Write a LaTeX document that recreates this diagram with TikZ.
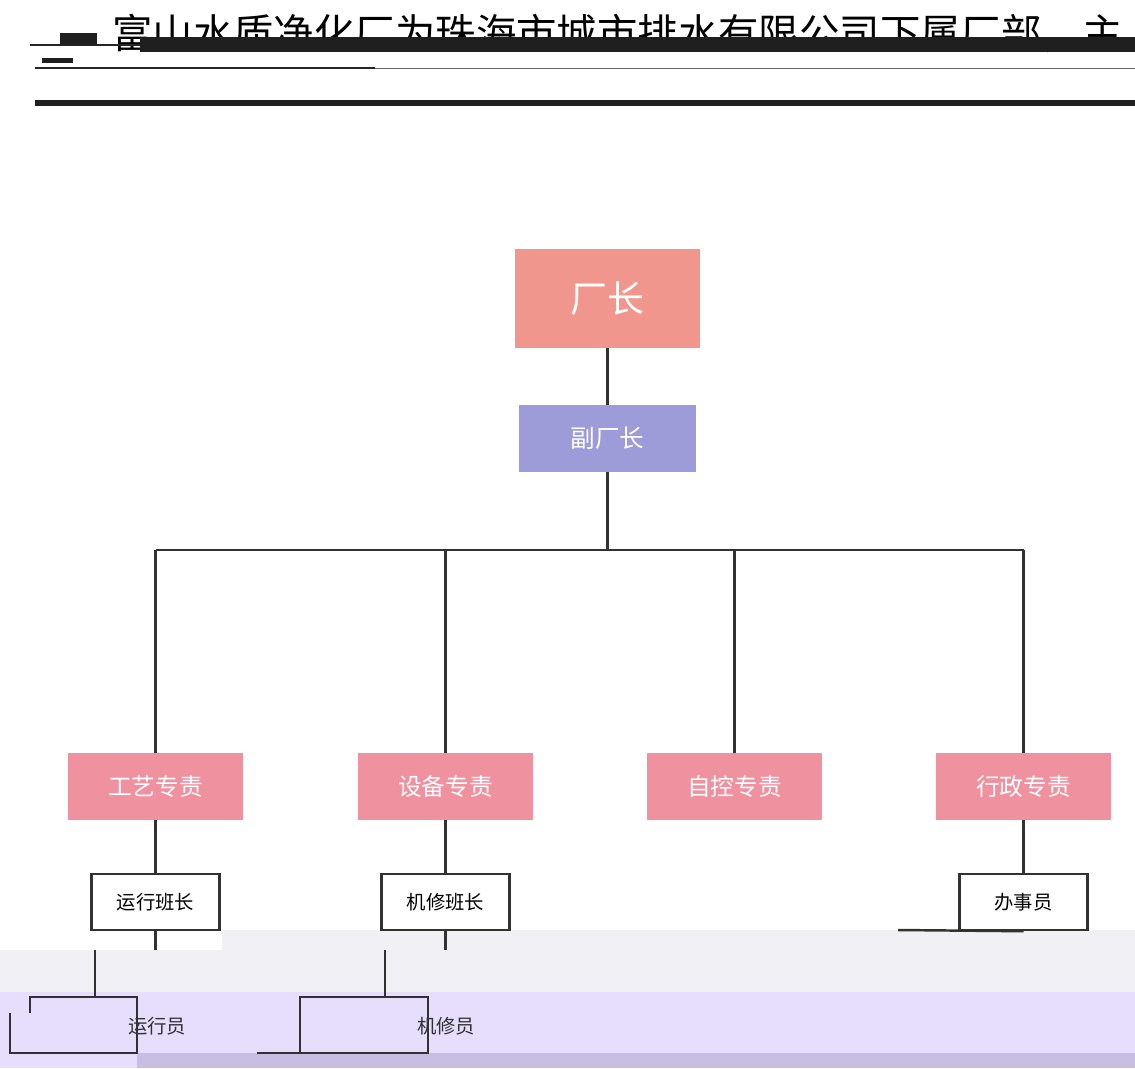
\documentclass[tikz,border=0pt]{standalone}
\usepackage{fontspec}
\newfontfamily\cjk{Noto Sans CJK SC}
\usetikzlibrary{positioning}

\definecolor{chiefred}{RGB}{240,150,140}
\definecolor{deputyblue}{RGB}{157,155,216}
\definecolor{dutypink}{RGB}{240,145,160}
\definecolor{linegray}{RGB}{50,50,50}
\definecolor{bandgray}{RGB}{240,240,245}
\definecolor{bandlilac}{RGB}{230,222,252}
\definecolor{banddark}{RGB}{200,190,227}

\tikzset{
  link/.style={draw=linegray, line width=1.4pt},
  chiefbox/.style={fill=chiefred, text=white, minimum width=3.7cm, minimum height=1.98cm,
    font=\cjk\fontsize{21}{21}\selectfont},
  deputybox/.style={fill=deputyblue, text=white, minimum width=3.54cm, minimum height=1.34cm,
    font=\cjk\fontsize{14}{14}\selectfont},
  dutybox/.style={fill=dutypink, text=white, minimum width=3.5cm, minimum height=1.34cm,
    font=\cjk\fontsize{13.5}{13.5}\selectfont},
  teambox/.style={draw=linegray, line width=1.4pt, fill=white, minimum width=2.56cm,
    minimum height=1.12cm, font=\cjk\fontsize{11}{11}\selectfont},
  stafftext/.style={font=\cjk\fontsize{11}{11}\selectfont, text=linegray}
}

\begin{document}
\begin{tikzpicture}[x=0.02cm, y=-0.02cm]
    \useasboundingbox (0,0) rectangle (1135,1068);
    \clip (0,0) rectangle (1135,1068);

    % Scanned bands at the bottom
    \fill[bandgray] (0,930) rectangle (1135,992);
    \fill[white] (0,930) rectangle (222,950);
    \fill[bandlilac] (0,992) rectangle (1135,1068);
    \fill[banddark] (137,1053) rectangle (1135,1068);

    % Header, cut by the rules
    \node[anchor=base west, inner sep=0, font=\cjk\fontsize{23}{23}\selectfont] (title) at (112,49)
      {富山水质净化厂为珠海市城市排水有限公司下属厂部，主};
    \fill[black!88] (140,37) rectangle (1135,52);
    \draw[black!85, line width=0.9pt] (30,45) -- (140,45);
    \fill[black!88] (60,33) rectangle (97,45);
    \fill[black!88] (42,58) rectangle (73,63);
    \draw[black!85, line width=1.3pt] (35,68) -- (375,68);
    \draw[black!60, line width=0.5pt] (375,68) -- (1135,68);
    \fill[black!88] (35,100) rectangle (1135,106);

    % Top of the tree
    \node[chiefbox] (chief) at (607.5,298.5) {厂长};
    \node[deputybox] (deputy) at (607.5,438.5) {副厂长};
    \draw[link] (chief.south) -- (deputy.north);

    % Duty officers
    \node[dutybox] (craft) at (155.5,786.5) {工艺专责};
    \node[dutybox] (equip) at (445.5,786.5) {设备专责};
    \node[dutybox] (auto) at (734.5,786.5) {自控专责};
    \node[dutybox] (admin) at (1023.5,786.5) {行政专责};

    \coordinate (busL) at (155.5,550);
    \coordinate (busR) at (1023.5,550);
    \draw[link] (deputy.south) -- (deputy.south |- busL);
    \draw[link] (busL) -- (busR);
    \foreach \n in {craft,equip,auto,admin}
      \draw[link] (\n.north) -- (\n.north |- busL);

    % Team leaders
    \node[teambox] (runlead) at (155.5,902) {运行班长};
    \node[teambox] (fixlead) at (445.5,902) {机修班长};
    \node[teambox] (clerk) at (1023.5,902) {办事员};
    \draw[link] (craft.south) -- (runlead.north);
    \draw[link] (equip.south) -- (fixlead.north);
    \draw[link] (admin.south) -- (clerk.north);
    \coordinate (clerkL) at (898,930);
    \draw[link] (clerk.south) -- (clerkL);

    % Staff, shifted by the scan
    \coordinate (runcut) at (155.5,950);
    \coordinate (fixcut) at (445.5,950);
    \draw[link] (runlead.south) -- (runcut);
    \draw[link] (fixlead.south) -- (fixcut);
    \coordinate (runtop) at (95,997);
    \coordinate (fixtop) at (385,997);
    \draw[link] (95,950) -- (runtop);
    \draw[link] (385,950) -- (fixtop);

    \draw[link] (30,1013) -- (30,997) -- (137,997) -- (137,1053) -- (10,1053) -- (10,1013);
    \node[stafftext] (runner) at (157,1026) {运行员};
    \draw[link] (300,997) rectangle (428,1053);
    \draw[link] (257,1053) -- (300,1053);
    \node[stafftext] (fixer) at (446,1026) {机修员};
\end{tikzpicture}
\end{document}
